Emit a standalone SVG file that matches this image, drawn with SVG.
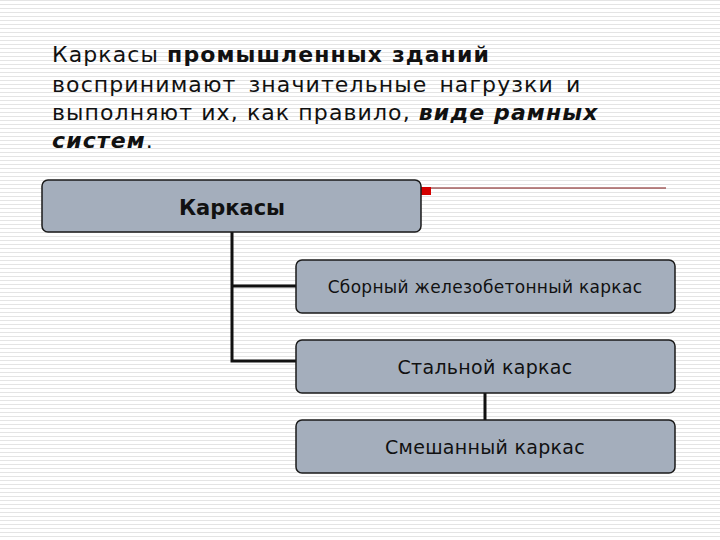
<svg xmlns="http://www.w3.org/2000/svg" width="720" height="540" viewBox="0 0 720 540">
<defs>
<pattern id="bg" width="4" height="4" patternUnits="userSpaceOnUse">
<rect width="4" height="4" fill="#ffffff"/><rect width="4" height="1" fill="#e4e4e4"/>
</pattern>
<style>
.box{fill:#a4aebc;stroke:#1a1a1a;stroke-width:1.5}
.t{font-family:"DejaVu Sans",Verdana,sans-serif;fill:#111}
.con{stroke:#111;stroke-width:3;fill:none}
</style>
</defs>
<rect width="720" height="540" fill="url(#bg)"/>
<g id="title" class="t" font-size="22" letter-spacing="1.1">
<text x="52" y="62">Каркасы  <tspan font-weight="bold">промышленных зданий</tspan></text>
<text x="52" y="92" word-spacing="4">воспринимают значительные нагрузки и</text>
<text x="52" y="120">выполняют их, как правило, <tspan font-weight="bold" font-style="italic">виде рамных</tspan></text>
<text x="52" y="148"><tspan font-weight="bold" font-style="italic">систем</tspan>.</text>
</g>
<g id="connectors">
<polyline class="con" points="232,232 232,361 296,361"/>
<line class="con" x1="232" y1="286" x2="296" y2="286"/>
<line class="con" x1="485" y1="393" x2="485" y2="420"/>
<rect x="421" y="187" width="10" height="8" fill="#d40000"/>
<line x1="431" y1="188" x2="666" y2="188" stroke="#7a1010" stroke-width="1"/>
</g>
<g id="karkasy">
<rect class="box" x="42" y="180" width="379" height="52" rx="6"/>
<text class="t" x="232" y="215" font-size="21" font-weight="bold" text-anchor="middle">Каркасы</text>
</g>
<g id="sborny">
<rect class="box" x="296" y="260" width="379" height="53" rx="6"/>
<text class="t" x="485" y="293" font-size="17" letter-spacing="0.3" text-anchor="middle">Сборный железобетонный каркас</text>
</g>
<g id="stalnoy">
<rect class="box" x="296" y="340" width="379" height="53" rx="6"/>
<text class="t" x="485" y="374" font-size="19" letter-spacing="0.3" text-anchor="middle">Стальной каркас</text>
</g>
<g id="smeshanny">
<rect class="box" x="296" y="420" width="379" height="53" rx="6"/>
<text class="t" x="485" y="454" font-size="19" letter-spacing="0.3" text-anchor="middle">Смешанный каркас</text>
</g>
</svg>
